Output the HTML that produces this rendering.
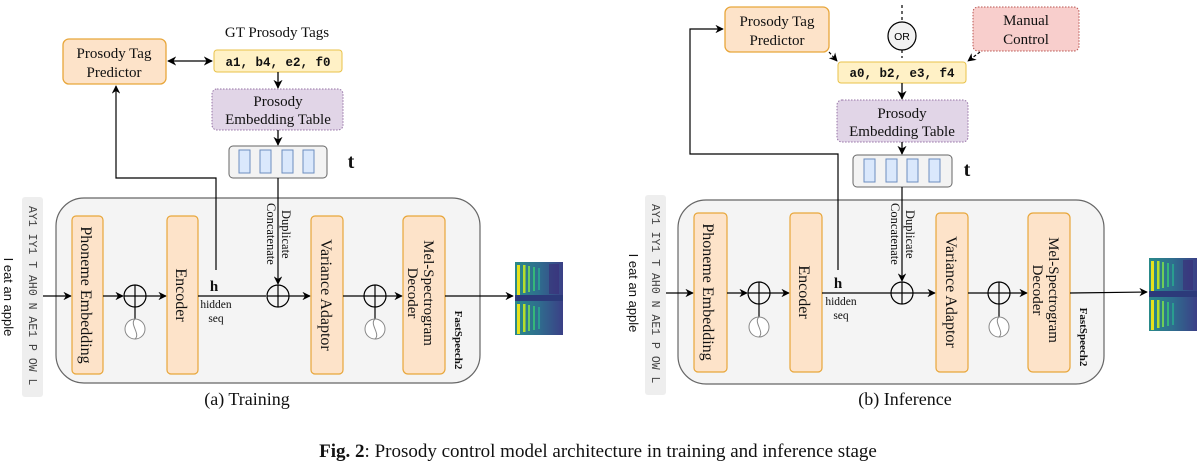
<!DOCTYPE html>
<html><head><meta charset="utf-8"><style>
html,body{margin:0;padding:0;background:#fff;}
svg{display:block;}
.s{font-family:"Liberation Serif",serif;fill:#111;}
.m{font-family:"Liberation Mono",monospace;}
.a{font-family:"Liberation Sans",sans-serif;}
</style></head><body>
<svg width="1197" height="466" viewBox="0 0 1197 466" xmlns="http://www.w3.org/2000/svg">
<defs>
<marker id="ar" viewBox="0 0 10 10" refX="9" refY="5" markerWidth="7" markerHeight="7" orient="auto-start-reverse"><path d="M0,0 L10,5 L0,10 L3,5 z" fill="#000"/></marker>
<linearGradient id="sp" x1="0" y1="0" x2="1" y2="0">
<stop offset="0" stop-color="#2a8a8a"/><stop offset="0.5" stop-color="#2f6d8e"/><stop offset="1" stop-color="#3b3f86"/></linearGradient>
<g id="spec">
<rect x="0" y="0" width="48" height="73" fill="url(#sp)"/>
<rect x="2" y="3" width="3" height="30" fill="#e6e21c"/><rect x="8" y="3" width="2.5" height="28" fill="#b5de2b"/><rect x="13" y="4" width="2" height="26" fill="#6ece58"/><rect x="18" y="5" width="2" height="24" fill="#35b779"/><rect x="23" y="6" width="2" height="22" fill="#2a9d8f"/>
<rect x="0" y="33" width="48" height="6" fill="#2c3a7a"/>
<rect x="2" y="42" width="3" height="30" fill="#e6e21c"/><rect x="8" y="42" width="2.5" height="28" fill="#b5de2b"/><rect x="13" y="43" width="2" height="26" fill="#6ece58"/><rect x="18" y="44" width="2" height="24" fill="#35b779"/><rect x="23" y="45" width="2" height="22" fill="#2a9d8f"/>
<rect x="34" y="2" width="10" height="30" fill="#3a2d78" opacity="0.6"/>
</g>
</defs>

<!-- ============ LEFT PANEL ============ -->
<text x="277" y="37" text-anchor="middle" class="s" font-size="15">GT Prosody Tags</text>
<rect x="63" y="39" width="103" height="45" rx="6" fill="#fde3c9" stroke="#e8a63a" stroke-width="1.3"/>
<text x="114" y="58" text-anchor="middle" class="s" font-size="15">Prosody Tag</text>
<text x="114" y="77" text-anchor="middle" class="s" font-size="15">Predictor</text>
<rect x="214" y="50" width="128" height="22" rx="3" fill="#fff1c6" stroke="#e8c24a" stroke-width="1"/>
<text x="278" y="66" text-anchor="middle" class="m" font-size="12.5" font-weight="bold" fill="#111">a1, b4, e2, f0</text>
<line x1="168" y1="61" x2="212" y2="61" stroke="#000" stroke-width="1.3" marker-start="url(#ar)" marker-end="url(#ar)"/>
<line x1="278" y1="72" x2="278" y2="88" stroke="#000" stroke-width="1.3" marker-end="url(#ar)"/>
<rect x="212" y="89" width="131" height="41" rx="5" fill="#e1d5e7" stroke="#9673a6" stroke-width="1" stroke-dasharray="1.5 1.5"/>
<text x="278" y="106" text-anchor="middle" class="s" font-size="15">Prosody</text>
<text x="278" y="124" text-anchor="middle" class="s" font-size="15">Embedding Table</text>
<line x1="278" y1="130" x2="278" y2="145" stroke="#000" stroke-width="1.3" marker-end="url(#ar)"/>
<rect x="229" y="146" width="98" height="32" rx="4" fill="#f3f3f3" stroke="#666" stroke-width="1"/>
<rect x="239" y="150" width="11" height="23" fill="#dae8fc" stroke="#6c8ebf"/>
<rect x="260" y="150" width="11" height="23" fill="#dae8fc" stroke="#6c8ebf"/>
<rect x="282" y="150" width="11" height="23" fill="#dae8fc" stroke="#6c8ebf"/>
<rect x="303" y="150" width="11" height="23" fill="#dae8fc" stroke="#6c8ebf"/>
<text x="351" y="168" text-anchor="middle" class="s" font-size="20" font-weight="bold">t</text>

<rect x="22" y="197" width="21" height="200" rx="3" fill="#eeeeee"/>
<text transform="translate(29,206) rotate(90)" class="m" font-size="11.5" fill="#444">AY1 IY1 T AH0 N AE1 P OW L</text>
<text transform="translate(4,297) rotate(90)" text-anchor="middle" class="a" font-size="13" fill="#111">I eat an apple</text>

<rect x="56" y="198" width="424" height="185" rx="28" fill="#f4f4f4" stroke="#666" stroke-width="1.2"/>
<line x1="43" y1="296" x2="71" y2="296" stroke="#000" stroke-width="1.2" marker-end="url(#ar)"/>
<rect x="72" y="216" width="31" height="158" rx="4" fill="#fde3c9" stroke="#e8a63a" stroke-width="1.2"/>
<text transform="translate(81,295) rotate(90)" text-anchor="middle" class="s" font-size="16">Phoneme Embedding</text>
<line x1="103" y1="296" x2="123" y2="296" stroke="#000" stroke-width="1.2" marker-end="url(#ar)"/>
<circle cx="135" cy="296" r="11" fill="none" stroke="#000" stroke-width="1.2"/>
<line x1="124" y1="296" x2="146" y2="296" stroke="#000" stroke-width="1.2"/>
<line x1="135" y1="285" x2="135" y2="319" stroke="#000" stroke-width="1.2"/>
<circle cx="135" cy="329" r="10" fill="#fff" stroke="#888" stroke-width="1"/>
<path d="M135,319 C129,324 141,334 135,339" fill="none" stroke="#888"/>
<line x1="146" y1="296" x2="166" y2="296" stroke="#000" stroke-width="1.2" marker-end="url(#ar)"/>
<rect x="167" y="216" width="31" height="158" rx="4" fill="#fde3c9" stroke="#e8a63a" stroke-width="1.2"/>
<text transform="translate(176,295) rotate(90)" text-anchor="middle" class="s" font-size="16">Encoder</text>
<line x1="198" y1="296" x2="266" y2="296" stroke="#000" stroke-width="1.2"/>
<text x="214" y="291" text-anchor="middle" class="s" font-size="15" font-weight="bold">h</text>
<text x="216" y="308" text-anchor="middle" class="s" font-size="11.5" fill="#333">hidden</text>
<text x="216" y="322" text-anchor="middle" class="s" font-size="11.5" fill="#333">seq</text>
<polyline points="216,270 216,178 116,178 116,86" fill="none" stroke="#000" stroke-width="1.2" marker-end="url(#ar)"/>
<line x1="278" y1="178" x2="278" y2="284" stroke="#000" stroke-width="1.2" marker-end="url(#ar)"/>
<text transform="translate(282,210) rotate(90)" class="s" font-size="12.5">Duplicate</text>
<text transform="translate(267,203) rotate(90)" class="s" font-size="12.5">Concatenate</text>
<circle cx="278" cy="296" r="11" fill="none" stroke="#000" stroke-width="1.2"/>
<line x1="267" y1="296" x2="289" y2="296" stroke="#000" stroke-width="1.2"/>
<line x1="278" y1="285" x2="278" y2="307" stroke="#000" stroke-width="1.2"/>
<line x1="289" y1="296" x2="310" y2="296" stroke="#000" stroke-width="1.2" marker-end="url(#ar)"/>
<rect x="311" y="216" width="32" height="158" rx="4" fill="#fde3c9" stroke="#e8a63a" stroke-width="1.2"/>
<text transform="translate(321,295) rotate(90)" text-anchor="middle" class="s" font-size="16">Variance Adaptor</text>
<line x1="343" y1="296" x2="364" y2="296" stroke="#000" stroke-width="1.2"/>
<circle cx="375" cy="296" r="11" fill="none" stroke="#000" stroke-width="1.2"/>
<line x1="364" y1="296" x2="386" y2="296" stroke="#000" stroke-width="1.2"/>
<line x1="375" y1="285" x2="375" y2="319" stroke="#000" stroke-width="1.2"/>
<circle cx="375" cy="329" r="10" fill="#fff" stroke="#888" stroke-width="1"/>
<path d="M375,319 C369,324 381,334 375,339" fill="none" stroke="#888"/>
<line x1="386" y1="296" x2="402" y2="296" stroke="#000" stroke-width="1.2" marker-end="url(#ar)"/>
<rect x="403" y="216" width="42" height="158" rx="5" fill="#fde3c9" stroke="#e8a63a" stroke-width="1.2"/>
<text transform="translate(424,293) rotate(90)" text-anchor="middle" class="s" font-size="15">Mel-Spectrogram</text>
<text transform="translate(408,293) rotate(90)" text-anchor="middle" class="s" font-size="15">Decoder</text>
<text transform="translate(455,340) rotate(90)" text-anchor="middle" class="s" font-size="11" font-weight="bold">FastSpeech2</text>
<line x1="445" y1="296" x2="513" y2="296" stroke="#000" stroke-width="1.2" marker-end="url(#ar)"/>
<use href="#spec" x="515" y="262"/>
<text x="247" y="405" text-anchor="middle" class="s" font-size="18">(a) Training</text>

<!-- ============ RIGHT PANEL ============ -->
<rect x="725" y="7" width="104" height="45" rx="6" fill="#fde3c9" stroke="#e8a63a" stroke-width="1.3"/>
<text x="777" y="26" text-anchor="middle" class="s" font-size="15">Prosody Tag</text>
<text x="777" y="45" text-anchor="middle" class="s" font-size="15">Predictor</text>
<line x1="902" y1="5" x2="902" y2="21" stroke="#000" stroke-width="1.2" stroke-dasharray="3 3"/>
<line x1="902" y1="50" x2="902" y2="58" stroke="#000" stroke-width="1.2" stroke-dasharray="3 3"/>
<circle cx="902" cy="36" r="14" fill="#f2f2f2" stroke="#000" stroke-width="1.2"/>
<text x="902" y="40" text-anchor="middle" class="a" font-size="10.5">OR</text>
<rect x="973" y="7" width="106" height="44" rx="5" fill="#f8cecc" stroke="#b85450" stroke-width="1" stroke-dasharray="1.5 1.5"/>
<text x="1026" y="25" text-anchor="middle" class="s" font-size="15">Manual</text>
<text x="1026" y="44" text-anchor="middle" class="s" font-size="15">Control</text>
<line x1="829" y1="52" x2="837" y2="61" stroke="#000" stroke-width="1.2" stroke-dasharray="3 2" marker-end="url(#ar)"/>
<line x1="980" y1="52" x2="968" y2="61" stroke="#000" stroke-width="1.2" stroke-dasharray="3 2" marker-end="url(#ar)"/>
<rect x="838" y="62" width="128" height="21" rx="3" fill="#fff1c6" stroke="#e8c24a" stroke-width="1"/>
<text x="902" y="77" text-anchor="middle" class="m" font-size="12.5" font-weight="bold" fill="#111">a0, b2, e3, f4</text>
<line x1="902" y1="83" x2="902" y2="99" stroke="#000" stroke-width="1.3" marker-end="url(#ar)"/>
<rect x="837" y="100" width="131" height="42" rx="5" fill="#e1d5e7" stroke="#9673a6" stroke-width="1" stroke-dasharray="1.5 1.5"/>
<text x="902" y="118" text-anchor="middle" class="s" font-size="15">Prosody</text>
<text x="902" y="136" text-anchor="middle" class="s" font-size="15">Embedding Table</text>
<line x1="902" y1="142" x2="902" y2="154" stroke="#000" stroke-width="1.3" marker-end="url(#ar)"/>
<rect x="853" y="155" width="99" height="32" rx="4" fill="#f3f3f3" stroke="#666" stroke-width="1"/>
<rect x="864" y="159" width="11" height="23" fill="#dae8fc" stroke="#6c8ebf"/>
<rect x="886" y="159" width="11" height="23" fill="#dae8fc" stroke="#6c8ebf"/>
<rect x="907" y="159" width="11" height="23" fill="#dae8fc" stroke="#6c8ebf"/>
<rect x="929" y="159" width="11" height="23" fill="#dae8fc" stroke="#6c8ebf"/>
<text x="967" y="176" text-anchor="middle" class="s" font-size="20" font-weight="bold">t</text>

<rect x="645" y="195" width="21" height="200" rx="3" fill="#eeeeee"/>
<text transform="translate(652,204) rotate(90)" class="m" font-size="11.5" fill="#444">AY1 IY1 T AH0 N AE1 P OW L</text>
<text transform="translate(629,293) rotate(90)" text-anchor="middle" class="a" font-size="13" fill="#111">I eat an apple</text>

<rect x="678" y="200" width="426" height="184" rx="28" fill="#f4f4f4" stroke="#666" stroke-width="1.2"/>
<line x1="666" y1="293" x2="693" y2="293" stroke="#000" stroke-width="1.2" marker-end="url(#ar)"/>
<rect x="694" y="213" width="33" height="159" rx="4" fill="#fde3c9" stroke="#e8a63a" stroke-width="1.2"/>
<text transform="translate(703,292) rotate(90)" text-anchor="middle" class="s" font-size="16">Phoneme Embedding</text>
<line x1="727" y1="293" x2="747" y2="293" stroke="#000" stroke-width="1.2" marker-end="url(#ar)"/>
<circle cx="759" cy="293" r="11" fill="none" stroke="#000" stroke-width="1.2"/>
<line x1="748" y1="293" x2="770" y2="293" stroke="#000" stroke-width="1.2"/>
<line x1="759" y1="282" x2="759" y2="317" stroke="#000" stroke-width="1.2"/>
<circle cx="759" cy="327" r="10" fill="#fff" stroke="#888" stroke-width="1"/>
<path d="M759,317 C753,322 765,332 759,337" fill="none" stroke="#888"/>
<line x1="770" y1="293" x2="789" y2="293" stroke="#000" stroke-width="1.2" marker-end="url(#ar)"/>
<rect x="790" y="213" width="32" height="159" rx="4" fill="#fde3c9" stroke="#e8a63a" stroke-width="1.2"/>
<text transform="translate(799,292) rotate(90)" text-anchor="middle" class="s" font-size="16">Encoder</text>
<line x1="822" y1="293" x2="891" y2="293" stroke="#000" stroke-width="1.2"/>
<text x="838" y="288" text-anchor="middle" class="s" font-size="15" font-weight="bold">h</text>
<text x="841" y="305" text-anchor="middle" class="s" font-size="11.5" fill="#333">hidden</text>
<text x="841" y="319" text-anchor="middle" class="s" font-size="11.5" fill="#333">seq</text>
<polyline points="838,270 838,154 690,154 690,29 723,29" fill="none" stroke="#000" stroke-width="1.2" marker-end="url(#ar)"/>
<line x1="902" y1="187" x2="902" y2="281" stroke="#000" stroke-width="1.2" marker-end="url(#ar)"/>
<text transform="translate(906,210) rotate(90)" class="s" font-size="12.5">Duplicate</text>
<text transform="translate(891,203) rotate(90)" class="s" font-size="12.5">Concatenate</text>
<circle cx="902" cy="293" r="11" fill="none" stroke="#000" stroke-width="1.2"/>
<line x1="891" y1="293" x2="913" y2="293" stroke="#000" stroke-width="1.2"/>
<line x1="902" y1="282" x2="902" y2="304" stroke="#000" stroke-width="1.2"/>
<line x1="913" y1="293" x2="935" y2="293" stroke="#000" stroke-width="1.2" marker-end="url(#ar)"/>
<rect x="936" y="213" width="32" height="159" rx="4" fill="#fde3c9" stroke="#e8a63a" stroke-width="1.2"/>
<text transform="translate(946,292) rotate(90)" text-anchor="middle" class="s" font-size="16">Variance Adaptor</text>
<line x1="968" y1="293" x2="988" y2="293" stroke="#000" stroke-width="1.2"/>
<circle cx="999" cy="293" r="11" fill="none" stroke="#000" stroke-width="1.2"/>
<line x1="988" y1="293" x2="1010" y2="293" stroke="#000" stroke-width="1.2"/>
<line x1="999" y1="282" x2="999" y2="317" stroke="#000" stroke-width="1.2"/>
<circle cx="999" cy="327" r="10" fill="#fff" stroke="#888" stroke-width="1"/>
<path d="M999,317 C993,322 1005,332 999,337" fill="none" stroke="#888"/>
<line x1="1010" y1="293" x2="1027" y2="293" stroke="#000" stroke-width="1.2" marker-end="url(#ar)"/>
<rect x="1028" y="213" width="42" height="159" rx="5" fill="#fde3c9" stroke="#e8a63a" stroke-width="1.2"/>
<text transform="translate(1049,290) rotate(90)" text-anchor="middle" class="s" font-size="15">Mel-Spectrogram</text>
<text transform="translate(1033,290) rotate(90)" text-anchor="middle" class="s" font-size="15">Decoder</text>
<text transform="translate(1080,337) rotate(90)" text-anchor="middle" class="s" font-size="11" font-weight="bold">FastSpeech2</text>
<line x1="1070" y1="293" x2="1147" y2="292" stroke="#000" stroke-width="1.2" marker-end="url(#ar)"/>
<use href="#spec" x="1149" y="258"/>
<text x="905" y="405" text-anchor="middle" class="s" font-size="18">(b) Inference</text>

<text x="598" y="457" text-anchor="middle" class="s" font-size="19"><tspan font-weight="bold">Fig. 2</tspan>: Prosody control model architecture in training and inference stage</text>
</svg>
</body></html>
